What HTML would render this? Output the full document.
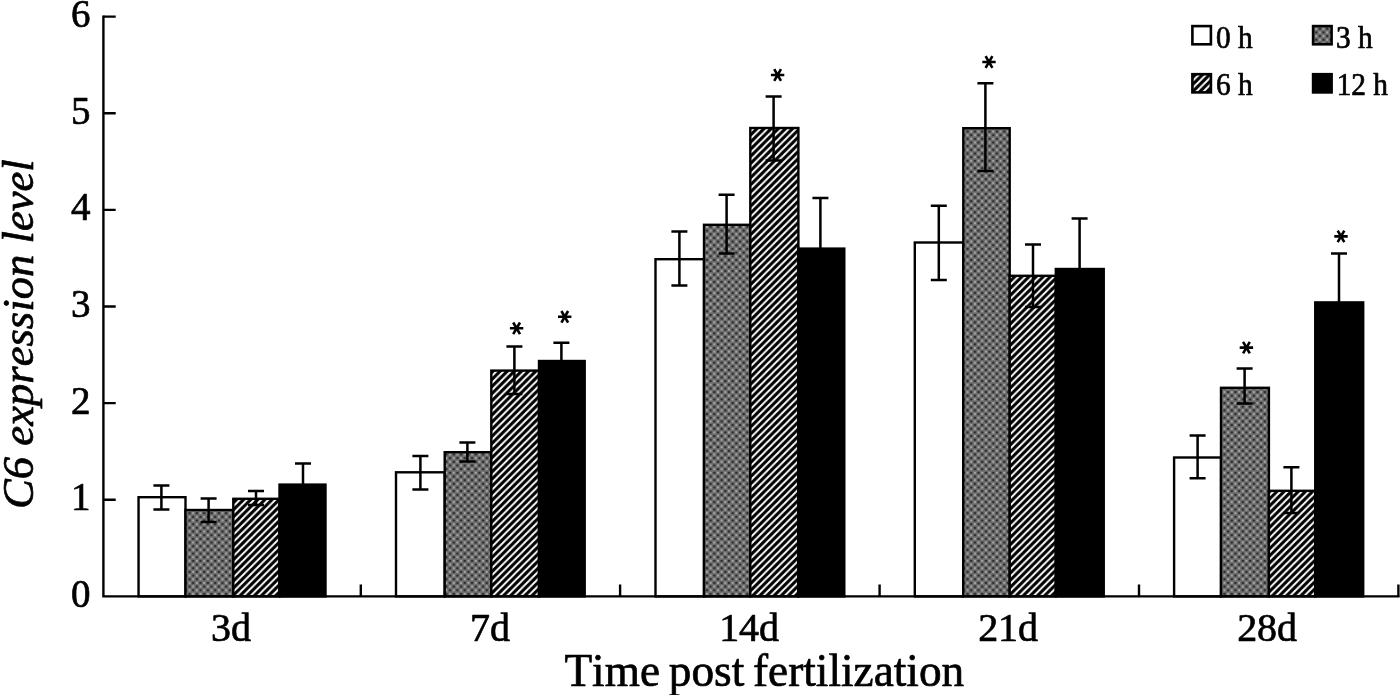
<!DOCTYPE html>
<html><head><meta charset="utf-8"><title>C6 expression level</title>
<style>
html,body{margin:0;padding:0;background:#fff;}
body{width:1400px;height:695px;overflow:hidden;}
svg{display:block;}
text{font-kerning:none;font-family:"Liberation Serif",serif;fill:#000;stroke:#000;stroke-width:0.7px;stroke-linejoin:round;}
svg{filter:grayscale(1);}
</style></head><body>
<svg width="1400" height="695" viewBox="0 0 1400 695">
<defs>
<pattern id="dots" patternUnits="userSpaceOnUse" width="7.34" height="7.34" x="0.5" y="1.2">
<rect width="7.34" height="7.34" fill="#6e6e6e"/>
<rect x="0.585" y="0.585" width="2.5" height="2.5" rx="0.9" fill="#2c2c2c"/>
<rect x="4.255" y="4.255" width="2.5" height="2.5" rx="0.9" fill="#2c2c2c"/>
<rect x="4.405" y="0.735" width="2.2" height="2.2" rx="0.9" fill="#a6a6a6"/>
<rect x="0.735" y="4.405" width="2.2" height="2.2" rx="0.9" fill="#a6a6a6"/>
</pattern>
<pattern id="hatch" patternUnits="userSpaceOnUse" width="7.12" height="7.12" x="0" y="-0.86">
<rect width="7.12" height="7.12" fill="#000"/>
<path d="M-3.56,3.56 L3.56,-3.56 M-1,8.12 L8.12,-1 M3.56,10.68 L10.68,3.56" stroke="#fff" stroke-width="1.95" fill="none"/>
</pattern>
</defs>
<rect width="1400" height="695" fill="#fff"/>

<g stroke="#000" stroke-width="2.4">
<rect x="138.55" y="497.20" width="46.95" height="99.20" fill="#fff"/>
<rect x="185.50" y="510.00" width="47.80" height="86.40" fill="url(#dots)"/>
<rect x="233.30" y="498.80" width="46.20" height="97.60" fill="url(#hatch)"/>
<rect x="279.50" y="484.60" width="46.00" height="111.80" fill="#000"/>
<rect x="396.00" y="472.30" width="48.70" height="124.10" fill="#fff"/>
<rect x="444.70" y="452.20" width="46.60" height="144.20" fill="url(#dots)"/>
<rect x="491.30" y="370.60" width="47.70" height="225.80" fill="url(#hatch)"/>
<rect x="539.00" y="361.00" width="45.70" height="235.40" fill="#000"/>
<rect x="655.50" y="259.20" width="48.50" height="337.20" fill="#fff"/>
<rect x="704.00" y="224.80" width="46.30" height="371.60" fill="url(#dots)"/>
<rect x="750.30" y="128.00" width="48.10" height="468.40" fill="url(#hatch)"/>
<rect x="798.40" y="248.60" width="45.90" height="347.80" fill="#000"/>
<rect x="914.80" y="242.50" width="48.50" height="353.90" fill="#fff"/>
<rect x="963.30" y="128.20" width="46.40" height="468.20" fill="url(#dots)"/>
<rect x="1009.70" y="275.80" width="46.10" height="320.60" fill="url(#hatch)"/>
<rect x="1055.80" y="269.00" width="47.95" height="327.40" fill="#000"/>
<rect x="1174.10" y="457.50" width="46.90" height="138.90" fill="#fff"/>
<rect x="1221.00" y="387.80" width="47.90" height="208.60" fill="url(#dots)"/>
<rect x="1268.90" y="490.80" width="46.35" height="105.60" fill="url(#hatch)"/>
<rect x="1315.25" y="302.40" width="47.95" height="294.00" fill="#000"/>
</g>
<g stroke="#000" stroke-width="2.5" fill="none">
<path d="M161.4,485.6 L161.4,509.6 M153.4,485.6 L169.4,485.6 M153.4,509.6 L169.4,509.6"/>
<path d="M208.6,498.4 L208.6,522.0 M200.6,498.4 L216.6,498.4 M200.6,522.0 L216.6,522.0"/>
<path d="M256.0,491.0 L256.0,505.0 M248.0,491.0 L264.0,491.0 M248.0,505.0 L264.0,505.0"/>
<path d="M303.0,463.6 L303.0,484.6 M295.0,463.6 L311.0,463.6"/>
<path d="M420.4,456.0 L420.4,489.4 M412.4,456.0 L428.4,456.0 M412.4,489.4 L428.4,489.4"/>
<path d="M467.4,442.6 L467.4,461.6 M459.4,442.6 L475.4,442.6 M459.4,461.6 L475.4,461.6"/>
<path d="M514.4,346.5 L514.4,394.0 M506.4,346.5 L522.4,346.5 M506.4,394.0 L522.4,394.0"/>
<path d="M561.4,342.7 L561.4,361.0 M553.4,342.7 L569.4,342.7"/>
<path d="M679.4,231.4 L679.4,285.4 M671.4,231.4 L687.4,231.4 M671.4,285.4 L687.4,285.4"/>
<path d="M726.6,194.8 L726.6,253.6 M718.6,194.8 L734.6,194.8 M718.6,253.6 L734.6,253.6"/>
<path d="M773.6,96.4 L773.6,160.6 M765.6,96.4 L781.6,96.4 M765.6,160.6 L781.6,160.6"/>
<path d="M820.4,198.0 L820.4,248.6 M812.4,198.0 L828.4,198.0"/>
<path d="M938.8,205.8 L938.8,280.0 M930.8,205.8 L946.8,205.8 M930.8,280.0 L946.8,280.0"/>
<path d="M985.4,83.2 L985.4,171.0 M977.4,83.2 L993.4,83.2 M977.4,171.0 L993.4,171.0"/>
<path d="M1033.0,244.4 L1033.0,307.0 M1025.0,244.4 L1041.0,244.4 M1025.0,307.0 L1041.0,307.0"/>
<path d="M1079.6,218.6 L1079.6,269.0 M1071.6,218.6 L1087.6,218.6"/>
<path d="M1197.6,435.4 L1197.6,478.2 M1189.6,435.4 L1205.6,435.4 M1189.6,478.2 L1205.6,478.2"/>
<path d="M1244.6,368.6 L1244.6,403.4 M1236.6,368.6 L1252.6,368.6 M1236.6,403.4 L1252.6,403.4"/>
<path d="M1291.4,467.2 L1291.4,513.0 M1283.4,467.2 L1299.4,467.2 M1283.4,513.0 L1299.4,513.0"/>
<path d="M1339.0,253.6 L1339.0,302.4 M1331.0,253.6 L1347.0,253.6"/>
</g>
<g stroke="#000" stroke-width="2.4" fill="none">
<path d="M103.4,15.4 L103.4,596.4 M102.2,596.4 L1399.6000000000001,596.4"/>
<path d="M103.4,499.77 L115.7,499.77 M103.4,403.14 L115.7,403.14 M103.4,306.51 L115.7,306.51 M103.4,209.88 L115.7,209.88 M103.4,113.25 L115.7,113.25 M103.4,16.62 L115.7,16.62 M360.8,596.4 L360.8,584.4 M620.1,596.4 L620.1,584.4 M879.6,596.4 L879.6,584.4 M1139.0,596.4 L1139.0,584.4 M1398.4,596.4 L1398.4,584.4 "/>
</g>
<g stroke="#000" stroke-width="2.6" stroke-linecap="butt" fill="none">
<path d="M509.9,328.3 L523.3,328.3 M513.2,322.5 L520.0,334.1 M520.0,322.5 L513.2,334.1 "/>
<path d="M558.0,316.8 L571.4,316.8 M561.4,311.0 L568.1,322.6 M568.1,311.0 L561.4,322.6 "/>
<path d="M770.9,75.0 L784.3,75.0 M774.2,69.2 L781.0,80.8 M781.0,69.2 L774.2,80.8 "/>
<path d="M982.3,62.0 L995.7,62.0 M985.6,56.2 L992.4,67.8 M992.4,56.2 L985.6,67.8 "/>
<path d="M1239.7,347.6 L1253.1,347.6 M1243.1,341.8 L1249.8,353.4 M1249.8,341.8 L1243.1,353.4 "/>
<path d="M1334.3,236.4 L1347.7,236.4 M1337.7,230.6 L1344.3,242.2 M1344.3,230.6 L1337.7,242.2 "/>
</g>
<g font-size="40" text-anchor="middle">
<text transform="translate(80.8,606.8) scale(0.975,1)">0</text>
<text transform="translate(80.8,510.2) scale(0.975,1)">1</text>
<text transform="translate(80.8,413.5) scale(0.975,1)">2</text>
<text transform="translate(80.8,316.9) scale(0.975,1)">3</text>
<text transform="translate(80.8,220.3) scale(0.975,1)">4</text>
<text transform="translate(80.8,123.7) scale(0.975,1)">5</text>
<text transform="translate(80.8,27.0) scale(0.975,1)">6</text>
</g>
<g font-size="40.6" text-anchor="middle">
<text transform="translate(231.1,641.1) scale(0.985,1)">3d</text>
<text transform="translate(490.1,641.1) scale(0.985,1)">7d</text>
<text transform="translate(749.1,641.1) scale(0.985,1)">14d</text>
<text transform="translate(1008.1,641.1) scale(0.985,1)">21d</text>
<text transform="translate(1267.1,641.1) scale(0.985,1)">28d</text>
</g>
<text transform="translate(764.3,685.6) scale(0.974,1)" font-size="46.5" word-spacing="-2.6" text-anchor="middle">Time post fertilization</text>
<text transform="translate(32.7,334.1) rotate(-90) scale(0.997,1)" font-size="44.8" font-style="italic" text-anchor="middle" stroke-width="0.3">C6 expression level</text>
<g stroke="#000" stroke-width="2.6">
<rect x="1192.4" y="26.1" width="18.5" height="18.2" fill="#fff"/>
<rect x="1313.1" y="26.1" width="18.5" height="18.2" fill="url(#dots)"/>
<rect x="1192.4" y="74.2" width="18.5" height="18.2" fill="url(#hatch)"/>
<rect x="1313.1" y="74.2" width="18.5" height="18.2" fill="#000"/>
</g>
<g font-size="31.3" stroke-width="1">
<text transform="translate(1216.0,47.7) scale(0.937,1)">0 h</text>
<text transform="translate(1336.0,47.7) scale(0.937,1)">3 h</text>
<text transform="translate(1216.0,95.3) scale(0.937,1)">6 h</text>
<text transform="translate(1336.7,95.3) scale(0.937,1)">12 h</text>
</g>
</svg></body></html>
